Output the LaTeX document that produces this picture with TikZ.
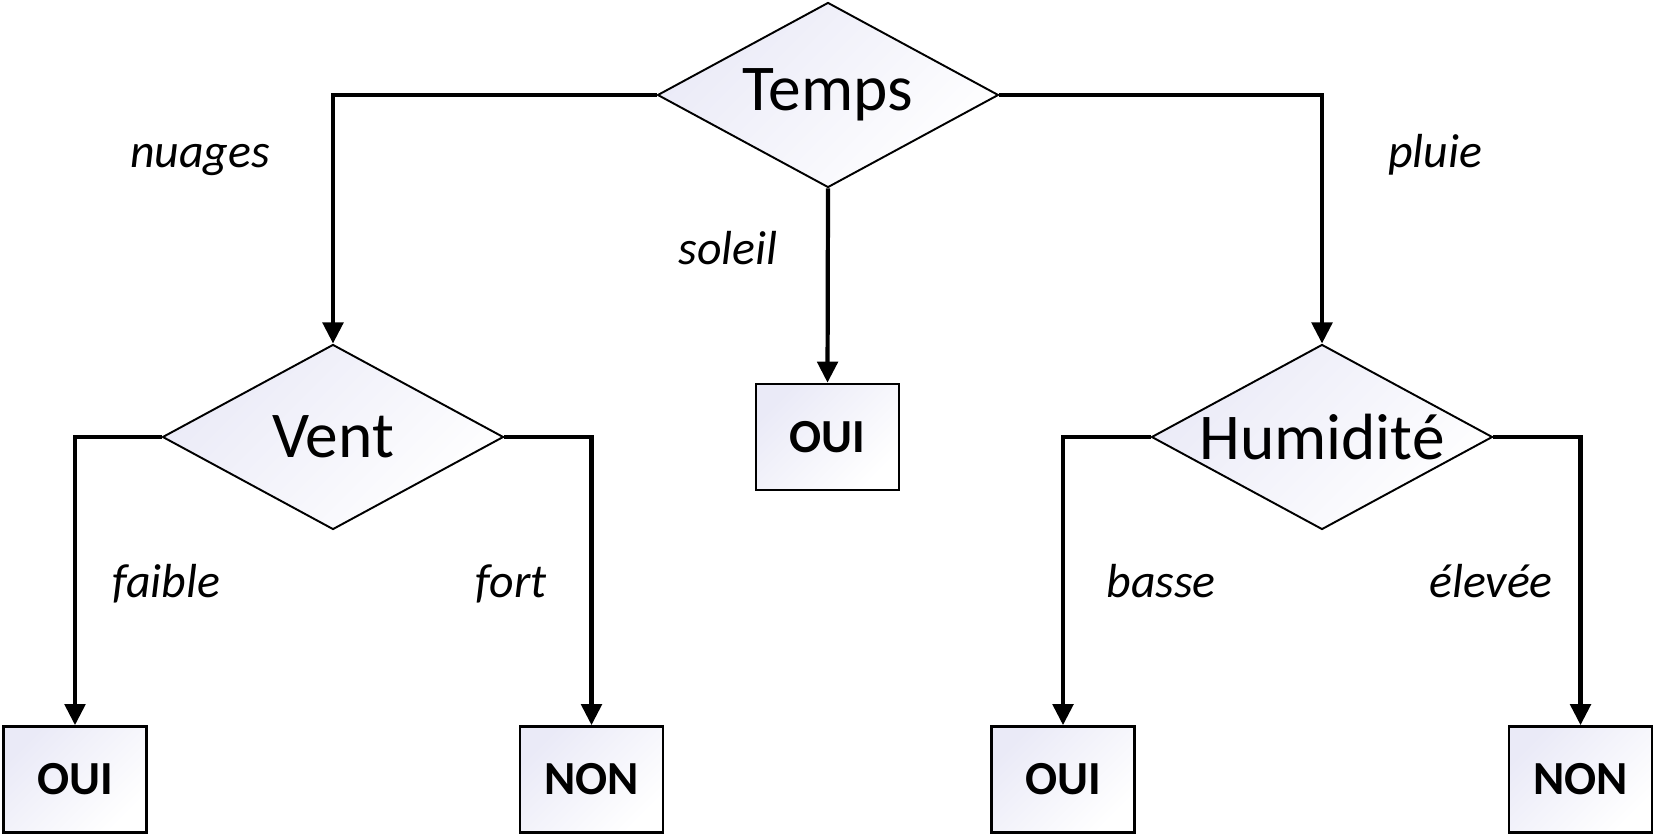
\documentclass[tikz,border=0pt]{standalone}
\usepackage{fontspec}
\setmainfont{Carlito}
\usetikzlibrary{shapes.geometric,arrows.meta}
\definecolor{lavande}{RGB}{234,234,247}

\tikzstyle{test} = [diamond, draw, line width=0.55pt, top color=lavande,
    bottom color=white, shading angle=45, aspect=1.85, inner sep=0pt,
    minimum width=3.41cm, minimum height=1.85cm,
    font=\fontsize{18.6}{20}\selectfont]
\tikzstyle{feuille} = [rectangle, draw, line width=0.75pt, top color=lavande,
    bottom color=white, shading angle=45, minimum width=1.43cm,
    minimum height=1.06cm, font=\bfseries\fontsize{13.5}{15}\selectfont]
\tikzstyle{branche} = [draw, line width=1.2pt,
    -{Triangle[length=6pt,width=5.8pt]}]
\tikzstyle{valeur} = [anchor=base, inner sep=0pt,
    font=\itshape\fontsize{13.6}{15}\selectfont]

\begin{document}
\begin{tikzpicture}
	\useasboundingbox (0,0) rectangle (16.58,-8.35);
	\node [test] (temps) at (8.28,-.95) {Temps};
	\node [test] (vent) at (3.33,-4.37) {Vent};
	\node [test] (humid) at (13.22,-4.37) {Humidité};
	%
	\node [feuille] (soleiloui) at (8.275,-4.37) {OUI};
	\node [feuille] (faibleoui) at (.75,-7.795) {OUI};
	\node [feuille] (fortnon) at (5.915,-7.795) {NON};
	\node [feuille] (basseoui) at (10.63,-7.795) {OUI};
	\node [feuille] (eleveenon) at (15.805,-7.795) {NON};
	%
	\draw [branche] (temps.west) -| (vent.north);
	\draw [branche] (temps.south) -- (soleiloui.north);
	\draw [branche] (temps.east) -| (humid.north);
	\draw [branche] (vent.west) -| (faibleoui.north);
	\draw [branche] (vent.east) -| (fortnon.north);
	\draw [branche] (humid.west) -| (basseoui.north);
	\draw [branche] (humid.east) -| (eleveenon.north);
	%
	\node [valeur] (nuages) at (2,-1.68) {nuages};
	\node [valeur] (soleil) at (7.28,-2.65) {soleil};
	\node [valeur] (pluie) at (14.35,-1.68) {pluie};
	\node [valeur] (faible) at (1.66,-5.97) {faible};
	\node [valeur] (fort) at (5.11,-5.97) {fort};
	\node [valeur] (basse) at (11.61,-5.97) {basse};
	\node [valeur] (elevee) at (14.91,-5.97) {élevée};
\end{tikzpicture}
\end{document}
